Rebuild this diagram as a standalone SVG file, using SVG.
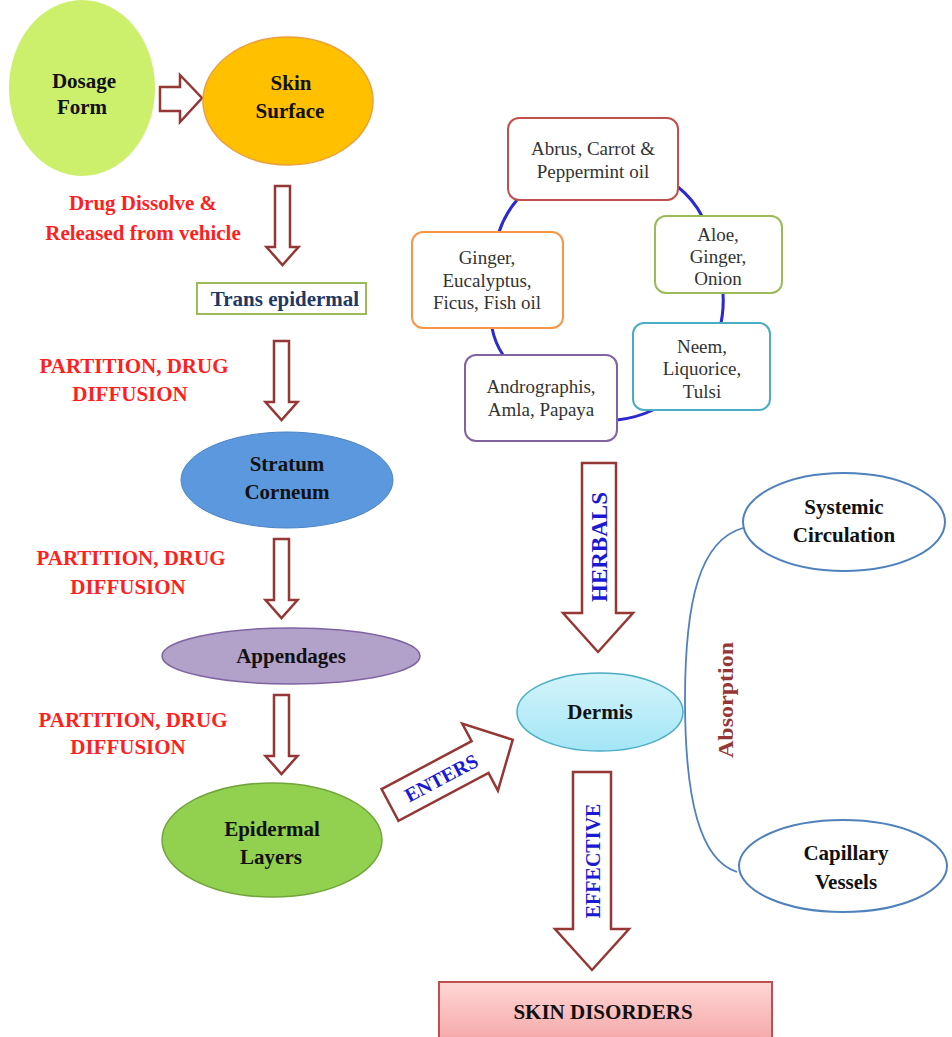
<svg xmlns="http://www.w3.org/2000/svg" width="952" height="1037" viewBox="0 0 952 1037">
<defs>
<style>
.t{font-family:"Liberation Serif",serif;font-weight:bold;font-size:21px;fill:#111;text-anchor:middle}
.red{fill:#ff1f1f}
.h{font-family:"Liberation Serif",serif;font-size:19px;fill:#333;text-anchor:middle}
.arr{fill:#fff;stroke:#953735;stroke-width:2.5;stroke-linejoin:miter}
.blu{font-family:"Liberation Serif",serif;font-weight:bold;fill:#1a1ad0;text-anchor:middle}
.cyc{fill:none;stroke:#2a2ad0;stroke-width:3}
.box{fill:#fff;stroke-width:2}
</style>
<linearGradient id="gDerm" x1="0" y1="0" x2="0" y2="1"><stop offset="0" stop-color="#d3f4fb"/><stop offset="1" stop-color="#a3e6f6"/></linearGradient>
<linearGradient id="gSkin" x1="0" y1="0" x2="0" y2="1"><stop offset="0" stop-color="#ffd6d6"/><stop offset="1" stop-color="#f6a9a9"/></linearGradient>
<path id="dn" d="M-7.5,0 L7.5,0 L7.5,61 L16,61 L0,79 L-16,61 L-7.5,61 Z"/>
</defs>

<g id="connectors">
<polygon class="arr" points="160,87 180,87 180,75 202,98 180,122 180,111 160,111"/>
<use href="#dn" class="arr" x="282.5" y="186"/>
<use href="#dn" class="arr" x="281.5" y="341"/>
<use href="#dn" class="arr" x="281.5" y="539"/>
<use href="#dn" class="arr" x="281.5" y="695"/>
<g transform="translate(390,805) rotate(-28)">
<polygon class="arr" points="0,-18 102,-18 102,-38 139,0 102,38 102,18 0,18"/>
<text class="blu" x="58" y="7" font-size="20">ENTERS</text>
</g>
<polygon class="arr" points="582,463 616,463 616,613 633,613 598,652 563,613 582,613"/>
<text class="blu" font-size="23" transform="translate(607,547) rotate(-90)">HERBALS</text>
<polygon class="arr" points="573,772 611,772 611,929 629,929 592,970 555,929 573,929"/>
<text class="blu" font-size="20" transform="translate(600,861) rotate(-90)">EFFECTIVE</text>
<path class="cyc" d="M517,200 Q505,214 499,232"/>
<path class="cyc" d="M678,187 Q693,199 702,216"/>
<path class="cyc" d="M723,293 Q724,308 721,323"/>
<path class="cyc" d="M653,410 Q636,418 617,420"/>
<path class="cyc" d="M492,328 Q495,343 503,355"/>
<path d="M743,528 C700,540 685,600 685,700 C685,800 700,860 737,872" fill="none" stroke="#4f81bd" stroke-width="1.8"/>
</g>

<g id="labels">
<text class="t red" x="143" y="210">Drug Dissolve &amp;</text>
<text class="t red" x="143" y="240">Released from vehicle</text>
<text class="t red" x="134" y="373">PARTITION, DRUG</text>
<text class="t red" x="130" y="401">DIFFUSION</text>
<text class="t red" x="131" y="565">PARTITION, DRUG</text>
<text class="t red" x="128" y="594">DIFFUSION</text>
<text class="t red" x="133" y="727">PARTITION, DRUG</text>
<text class="t red" x="128" y="754">DIFFUSION</text>
<text class="t" font-size="21" fill="#953735" style="fill:#953735" transform="translate(733,700) rotate(-90)" textLength="116" lengthAdjust="spacingAndGlyphs">Absorption</text>
</g>

<g id="dosage">
<ellipse cx="82" cy="88" rx="73" ry="88" fill="#cdf06c"/>
<text class="t" x="84" y="88">Dosage</text>
<text class="t" x="82" y="114">Form</text>
</g>
<g id="skin-surface">
<ellipse cx="288" cy="101" rx="85" ry="64" fill="#ffc000" stroke="#ec9f3e" stroke-width="1.5"/>
<text class="t" x="291" y="90">Skin</text>
<text class="t" x="290" y="118">Surface</text>
</g>
<g id="trans-epidermal">
<rect x="197" y="283" width="169" height="31" fill="#fff" stroke="#9bbb59" stroke-width="2"/>
<text class="t" x="285" y="306" style="fill:#1f3864">Trans epidermal</text>
</g>
<g id="stratum">
<ellipse cx="287" cy="480" rx="106" ry="48" fill="#5b98de" stroke="#4a83c6" stroke-width="1"/>
<text class="t" x="287" y="471">Stratum</text>
<text class="t" x="287" y="499">Corneum</text>
</g>
<g id="appendages">
<ellipse cx="291" cy="656" rx="129" ry="28" fill="#b2a1c9" stroke="#7f64a2" stroke-width="1.5"/>
<text class="t" x="291" y="663">Appendages</text>
</g>
<g id="epidermal">
<ellipse cx="272" cy="840" rx="110" ry="57" fill="#92d050" stroke="#72a53c" stroke-width="1.5"/>
<text class="t" x="272" y="836">Epidermal</text>
<text class="t" x="271" y="864">Layers</text>
</g>

<g id="abrus">
<rect class="box" x="508" y="118" width="170" height="82" rx="11" stroke="#c0504d"/>
<text class="h" x="593" y="155">Abrus, Carrot &amp;</text>
<text class="h" x="593" y="178">Peppermint oil</text>
</g>
<g id="aloe">
<rect class="box" x="655" y="216" width="127" height="77" rx="11" stroke="#9bbb59"/>
<text class="h" x="718" y="241">Aloe,</text>
<text class="h" x="718" y="263">Ginger,</text>
<text class="h" x="718" y="285">Onion</text>
</g>
<g id="ginger">
<rect class="box" x="412" y="232" width="151" height="96" rx="11" stroke="#f79646"/>
<text class="h" x="487" y="264">Ginger,</text>
<text class="h" x="487" y="287">Eucalyptus,</text>
<text class="h" x="487" y="309">Ficus, Fish oil</text>
</g>
<g id="neem">
<rect class="box" x="633" y="323" width="137" height="87" rx="11" stroke="#4bacc6"/>
<text class="h" x="702" y="353">Neem,</text>
<text class="h" x="702" y="375">Liquorice,</text>
<text class="h" x="702" y="398">Tulsi</text>
</g>
<g id="andrographis">
<rect class="box" x="465" y="355" width="152" height="86" rx="11" stroke="#8064a2"/>
<text class="h" x="541" y="393">Andrographis,</text>
<text class="h" x="541" y="416">Amla, Papaya</text>
</g>

<g id="dermis">
<ellipse cx="600" cy="712" rx="83" ry="39" fill="url(#gDerm)" stroke="#4bacc6" stroke-width="1.5"/>
<text class="t" x="600" y="719">Dermis</text>
</g>
<g id="systemic">
<ellipse cx="844" cy="522" rx="101" ry="49" fill="#fff" stroke="#4f81bd" stroke-width="2"/>
<text class="t" x="844" y="514">Systemic</text>
<text class="t" x="844" y="542">Circulation</text>
</g>
<g id="capillary">
<ellipse cx="843" cy="866" rx="104" ry="46" fill="#fff" stroke="#4f81bd" stroke-width="2"/>
<text class="t" x="846" y="860">Capillary</text>
<text class="t" x="846" y="889">Vessels</text>
</g>
<g id="skin-disorders">
<rect x="439" y="982" width="333" height="58" fill="url(#gSkin)" stroke="#c0504d" stroke-width="2"/>
<text class="t" x="603" y="1019">SKIN DISORDERS</text>
</g>
</svg>
